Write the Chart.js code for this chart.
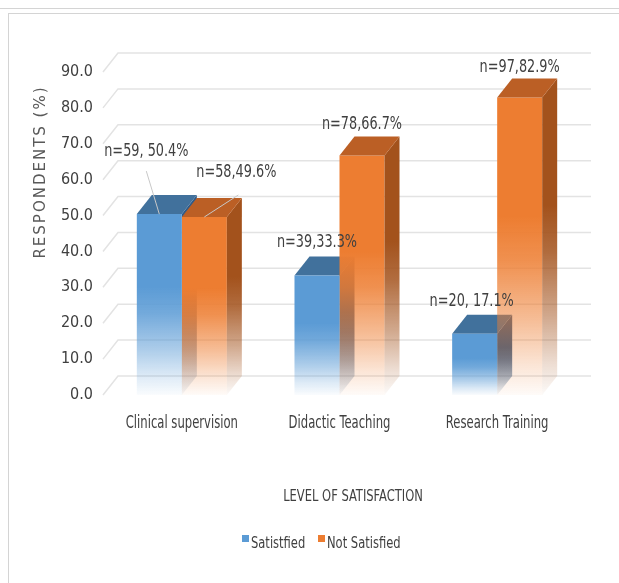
<!DOCTYPE html>
<html>
<head>
<meta charset="utf-8">
<script src="https://cdn.jsdelivr.net/npm/chart.js@4.4.1/dist/chart.umd.min.js"></script>
<style>
  html, body { margin: 0; padding: 0; background: #fff; }
  #wrap { position: relative; width: 619px; height: 583px; }
  #chart { position: absolute; left: 0; top: 0; }
  .rule { position: absolute; background: #d4d4d4; }
</style>
</head>
<body>
<div id="wrap">
  <canvas id="chart" width="619" height="583"></canvas>
  <div class="rule" style="left:0;top:8px;width:619px;height:1px;"></div>
  <div class="rule" style="left:8px;top:13px;width:611px;height:1px;"></div>
  <div class="rule" style="left:8px;top:13px;width:1px;height:570px;"></div>
</div>
<script>
// Chart data
const categories = ['Clinical supervision', 'Didactic Teaching', 'Research Training'];
const seriesNames = ['Satistfied', 'Not Satisfied'];
const satisfied = [50.4, 33.3, 17.1];
const notSatisfied = [49.6, 66.7, 82.9];
const satisfiedLabels = ['n=59, 50.4%', 'n=39,33.3%', 'n=20, 17.1%'];
const notSatisfiedLabels = ['n=58,49.6%', 'n=78,66.7%', 'n=97,82.9%'];
const yTicks = [0, 10, 20, 30, 40, 50, 60, 70, 80, 90];

// Styling
const NARROW = '"DejaVu Sans Condensed", "DejaVu Sans", sans-serif';
const DEPTH_X = 15;
const DEPTH_Y = -19;
const palette = [
  { front: [91, 155, 213], top: '#41719c', side: [47, 90, 135] },
  { front: [237, 125, 49], top: '#bb5f25', side: [163, 82, 28] }
];
// label offsets from bar centre/top: [dx, dy, leader]
const labelOffsets = [
  [[-13, -63, true], [0, -33, false], [-3, -32, false]],
  [[32, -44, true], [0, -31, false], [0, -30, false]]
];

function rgba(c, a) {
  return `rgba(${c[0]},${c[1]},${c[2]},${a})`;
}

function fadeGradient(ctx, top, base, color) {
  const g = ctx.createLinearGradient(0, top, 0, base);
  g.addColorStop(0, rgba(color, 1));
  g.addColorStop(0.4, rgba(color, 1));
  g.addColorStop(0.55, rgba(color, 0.85));
  g.addColorStop(0.75, rgba(color, 0.5));
  g.addColorStop(0.9, rgba(color, 0.2));
  g.addColorStop(1, rgba(color, 0.03));
  return g;
}

function frontColor(context) {
  const c = palette[context.datasetIndex].front;
  const y = context.chart.scales.y;
  if (!y || context.raw === undefined) return rgba(c, 1);
  const top = y.getPixelForValue(context.raw);
  const base = y.getPixelForValue(0);
  if (!isFinite(top) || !isFinite(base)) return rgba(c, 1);
  return fadeGradient(context.chart.ctx, top, base, c);
}

// text squeezed horizontally to mimic the narrow original font
function narrowText(ctx, text, x, y, align, sx) {
  ctx.save();
  ctx.translate(x, y);
  ctx.scale(sx, 1);
  ctx.textAlign = align;
  ctx.fillText(text, 0, 0);
  ctx.restore();
}

function drawFaces(chart, dsIndex) {
  const ctx = chart.ctx;
  const meta = chart.getDatasetMeta(dsIndex);
  const col = palette[dsIndex];
  meta.data.forEach(bar => {
    const l = bar.x - bar.width / 2;
    const r = bar.x + bar.width / 2;
    const t = bar.y;
    const b = bar.base;
    // side face
    ctx.beginPath();
    ctx.moveTo(r, t);
    ctx.lineTo(r + DEPTH_X, t + DEPTH_Y);
    ctx.lineTo(r + DEPTH_X, b + DEPTH_Y);
    ctx.lineTo(r, b);
    ctx.closePath();
    ctx.fillStyle = fadeGradient(ctx, t + DEPTH_Y, b, col.side);
    ctx.fill();
    // top face
    ctx.beginPath();
    ctx.moveTo(l, t);
    ctx.lineTo(l + DEPTH_X, t + DEPTH_Y);
    ctx.lineTo(r + DEPTH_X, t + DEPTH_Y);
    ctx.lineTo(r, t);
    ctx.closePath();
    ctx.fillStyle = col.top;
    ctx.fill();
  });
}

const threeD = {
  id: 'threeD',
  beforeDatasetsDraw(chart) {
    const ctx = chart.ctx;
    const y = chart.scales.y;
    const area = chart.chartArea;
    ctx.save();
    // back wall gridlines
    ctx.strokeStyle = '#e3e3e3';
    ctx.lineWidth = 1.5;
    yTicks.forEach(v => {
      const py = y.getPixelForValue(v);
      ctx.beginPath();
      ctx.moveTo(area.left, py);
      ctx.lineTo(area.left + DEPTH_X, py + DEPTH_Y);
      ctx.lineTo(area.right + DEPTH_X, py + DEPTH_Y);
      ctx.stroke();
    });
    drawFaces(chart, 0);
    ctx.restore();
  },
  afterDatasetsDraw(chart) {
    const ctx = chart.ctx;
    ctx.save();
    drawFaces(chart, 1);
    // value labels
    const allLabels = [satisfiedLabels, notSatisfiedLabels];
    ctx.font = '17px ' + NARROW;
    ctx.fillStyle = '#404040';
    ctx.textBaseline = 'middle';
    [0, 1].forEach(d => {
      chart.getDatasetMeta(d).data.forEach((bar, i) => {
        const [dx, dy, leader] = labelOffsets[d][i];
        const lx = bar.x + dx;
        const ly = bar.y + dy;
        if (leader) {
          ctx.strokeStyle = '#c8c8c8';
          ctx.lineWidth = 1;
          ctx.beginPath();
          ctx.moveTo(lx + (d === 0 ? 0 : 2), ly + (d === 0 ? 20 : 22));
          ctx.lineTo(bar.x, bar.y);
          ctx.stroke();
        }
        narrowText(ctx, allLabels[d][i], lx, ly, 'center', 0.84);
      });
    });
    ctx.restore();
  },
  afterDraw(chart) {
    const ctx = chart.ctx;
    const x = chart.scales.x;
    ctx.save();
    ctx.fillStyle = '#595959';
    // y axis title
    ctx.translate(41, 172);
    ctx.rotate(-Math.PI / 2);
    ctx.font = '15px "DejaVu Sans", sans-serif';
    ctx.letterSpacing = '2px';
    ctx.textAlign = 'center';
    ctx.textBaseline = 'middle';
    ctx.fillText('RESPONDENTS (%)', 0, 0);
    ctx.restore();

    ctx.save();
    ctx.fillStyle = '#404040';
    ctx.textBaseline = 'middle';
    // category labels
    ctx.font = '17px ' + NARROW;
    categories.forEach((c, i) => {
      narrowText(ctx, c, x.getPixelForTick(i), 424, 'center', 0.76);
    });
    ctx.font = '16px ' + NARROW;
    narrowText(ctx, 'LEVEL OF SATISFACTION', 353, 497, 'center', 0.8);
    // legend
    const items = [[242, seriesNames[0], palette[0].front], [318, seriesNames[1], palette[1].front]];
    items.forEach(([lx, name, c]) => {
      ctx.fillStyle = rgba(c, 1);
      ctx.fillRect(lx, 535, 7, 7);
      ctx.fillStyle = '#404040';
      narrowText(ctx, name, lx + 9, 544, 'left', 0.8);
    });
    ctx.restore();
  }
};

new Chart(document.getElementById('chart'), {
  type: 'bar',
  data: {
    labels: categories,
    datasets: [
      { label: seriesNames[0], data: satisfied, backgroundColor: frontColor },
      { label: seriesNames[1], data: notSatisfied, backgroundColor: frontColor }
    ]
  },
  options: {
    responsive: false,
    animation: false,
    events: [],
    layout: { padding: { top: 72, right: 43, bottom: 0, left: 0 } },
    datasets: { bar: { barPercentage: 1, categoryPercentage: 0.571 } },
    plugins: { legend: { display: false }, tooltip: { enabled: false } },
    scales: {
      x: {
        grid: { display: false, drawTicks: false },
        border: { display: false },
        ticks: { display: false },
        afterFit(scale) { scale.height = 188; }
      },
      y: {
        min: 0,
        max: 90,
        grid: { display: false, drawTicks: false },
        border: { display: false },
        afterBuildTicks(scale) { scale.ticks = yTicks.map(v => ({ value: v })); },
        ticks: {
          padding: 10,
          color: '#404040',
          font: { family: NARROW, size: 16 },
          callback: v => v.toFixed(1)
        },
        afterFit(scale) { scale.width = 103; }
      }
    }
  },
  plugins: [threeD]
});
</script>
</body>
</html>
